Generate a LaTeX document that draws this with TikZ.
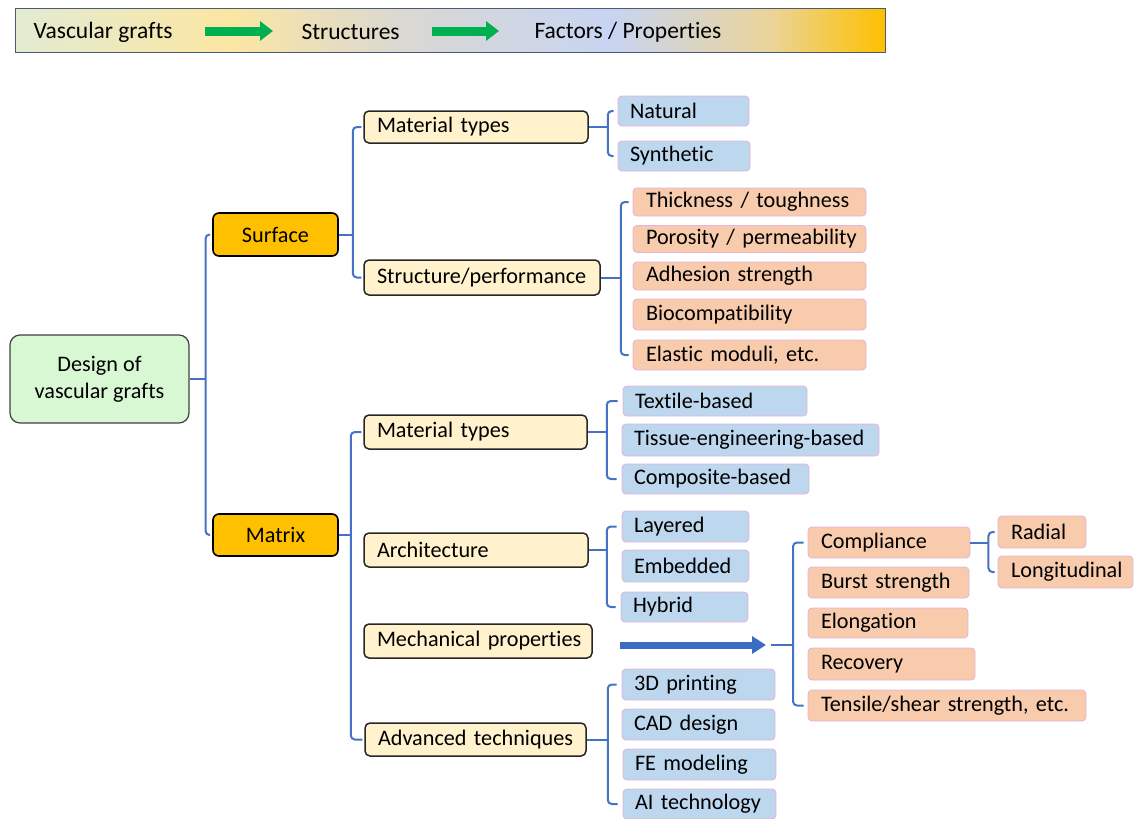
\documentclass[tikz,border=0pt]{standalone}
\usepackage{fontspec}
\setmainfont{Carlito}[Ligatures=NoCommon]
\usetikzlibrary{arrows.meta}
\definecolor{conncol}{HTML}{4472C4}
\definecolor{rootfill}{HTML}{D8F7D3}
\definecolor{lvtwo}{HTML}{FFC000}
\definecolor{lvthree}{HTML}{FFF2CC}
\definecolor{bluefill}{HTML}{BDD7EE}
\definecolor{orfill}{HTML}{F8CBAD}
\definecolor{pinkline}{HTML}{E4B4D8}
\definecolor{arrowblue}{HTML}{3A6CC4}
\definecolor{arrowgreen}{HTML}{00B050}
\definecolor{hA}{HTML}{E2EBD3}
\definecolor{hB}{HTML}{FBE6A2}
\definecolor{hC}{HTML}{DAD8D2}
\definecolor{hD}{HTML}{C7D4F2}
\definecolor{hE}{HTML}{EAD49A}
\definecolor{hF}{HTML}{FEC000}
\definecolor{hborder}{HTML}{4A5A78}
\begin{document}
\begin{tikzpicture}[x=1pt,y=-1pt,
  every node/.style={font=\fontsize{22.2}{27}\selectfont, text=black, inner ysep=0pt},
  rootbox/.style={draw=black!75, line width=1.2pt, fill=rootfill, rounded corners=10pt, align=center},
  levtwo/.style={draw=black, line width=1.6pt, fill=lvtwo, rounded corners=6pt, align=center},
  levthree/.style={draw=black!85, line width=1.5pt, fill=lvthree, rounded corners=5pt, align=left, inner xsep=13pt},
  bleaf/.style={draw=pinkline, line width=0.9pt, fill=bluefill, rounded corners=4pt, align=left, inner xsep=12pt},
  oleaf/.style={draw=pinkline, line width=0.9pt, fill=orfill, rounded corners=4pt, align=left, inner xsep=13pt},
  conn/.style={draw=conncol, line width=2pt, rounded corners=4pt},
  bigarrow/.style={draw=arrowblue, line width=7pt, -{Triangle[length=14pt,width=17pt]}},
  grarrow/.style={draw=arrowgreen, line width=9pt, -{Triangle[length=13pt,width=19pt]}},
  hdtext/.style={font=\fontsize{23.5}{27}\selectfont, anchor=west}
]
\useasboundingbox (0,0) rectangle (1135,819);

% header
\shade[left color=hA, right color=hB] (15,8) rectangle (230,52);
\shade[left color=hB, right color=hC] (229.5,8) rectangle (400,52);
\shade[left color=hC, right color=hD] (399.5,8) rectangle (610,52);
\shade[left color=hD, right color=hE] (609.5,8) rectangle (770,52);
\shade[left color=hE, right color=hF] (769.5,8) rectangle (885,52);
\draw[hborder, line width=1pt] (15,8) rectangle (885,52);
\node[hdtext] (hv) at (30,32) {Vascular grafts};
\node[hdtext] (hs) at (298,32) {Structures};
\node[hdtext] (hf) at (531,32) {Factors / Properties};
\coordinate (g1a) at (205,31); \coordinate (g1b) at (273,31);
\coordinate (g2a) at (432,31); \coordinate (g2b) at (499,31);
\draw[grarrow] (g1a) -- (g1b);
\draw[grarrow] (g2a) -- (g2b);

% root and level 2
\node[rootbox, minimum width=179pt, minimum height=88pt] (root) at (99.5,379) {Design of\\vascular grafts};
\node[levtwo, minimum width=125pt, minimum height=43pt] (surf) at (275.5,234.5) {Surface};
\node[levtwo, minimum width=125pt, minimum height=42pt] (matr) at (275.5,535) {Matrix};

% level 3
\node[levthree, text width=198pt, minimum height=32pt] (smt) at (476,127) {\mbox{Material types}};
\node[levthree, text width=210pt, minimum height=35pt] (ssp) at (482,277.5) {\mbox{Structure/performance}};
\node[levthree, text width=197pt, minimum height=34pt] (mmt) at (475.5,432) {\mbox{Material types}};
\node[levthree, text width=198pt, minimum height=34pt] (arc) at (476,550) {\mbox{Architecture}};
\node[levthree, text width=202pt, minimum height=34pt] (mec) at (478,641) {\mbox{Mechanical properties}};
\node[levthree, text width=195pt, minimum height=33pt] (adv) at (475.5,739.5) {\mbox{Advanced techniques}};

% leaves: surface
\node[bleaf, text width=107pt, minimum height=30pt] (nat) at (683.5,111) {\mbox{Natural}};
\node[bleaf, text width=108pt, minimum height=30pt] (syn) at (684,156) {\mbox{Synthetic}};
\node[oleaf, text width=207pt, minimum height=28pt] (thk) at (749.5,202) {\mbox{Thickness / toughness}};
\node[oleaf, text width=207pt, minimum height=27pt] (por) at (749.5,239) {\mbox{Porosity / permeability}};
\node[oleaf, text width=207pt, minimum height=28pt] (adh) at (749.5,276) {\mbox{Adhesion strength}};
\node[oleaf, text width=207pt, minimum height=31pt] (bio) at (749.5,314.5) {\mbox{Biocompatibility}};
\node[oleaf, text width=207pt, minimum height=30pt] (ela) at (749.5,355) {\mbox{Elastic moduli, etc.}};

% leaves: matrix
\node[bleaf, text width=160pt, minimum height=30pt] (tex) at (715,401) {\mbox{Textile-based}};
\node[bleaf, text width=233pt, minimum height=32pt] (tis) at (750.5,440) {\mbox{Tissue-engineering-based}};
\node[bleaf, text width=163pt, minimum height=30pt] (com) at (715.5,479) {\mbox{Composite-based}};
\node[bleaf, text width=103pt, minimum height=31pt] (lay) at (685.5,526.5) {\mbox{Layered}};
\node[bleaf, text width=103pt, minimum height=32pt] (emb) at (685.5,566) {\mbox{Embedded}};
\node[bleaf, text width=103pt, minimum height=30pt] (hyb) at (684.5,607) {\mbox{Hybrid}};
\node[bleaf, text width=129pt, minimum height=31pt] (dtp) at (698.5,684.5) {\mbox{3D printing}};
\node[bleaf, text width=129pt, minimum height=31pt] (cad) at (698.5,724.5) {\mbox{CAD design}};
\node[bleaf, text width=129pt, minimum height=31pt] (fem) at (699.5,764.5) {\mbox{FE modeling}};
\node[bleaf, text width=129pt, minimum height=30pt] (ait) at (699.5,804) {\mbox{AI technology}};

% mechanical properties leaves
\node[oleaf, text width=136pt, minimum height=31pt] (cpl) at (889,542.5) {\mbox{Compliance}};
\node[oleaf, text width=135pt, minimum height=31pt] (bur) at (888.5,582.5) {\mbox{Burst strength}};
\node[oleaf, text width=134pt, minimum height=30pt] (elo) at (888,623) {\mbox{Elongation}};
\node[oleaf, text width=141pt, minimum height=32pt] (rec) at (891.5,664) {\mbox{Recovery}};
\node[oleaf, text width=252pt, minimum height=31pt] (ten) at (947,705.5) {\mbox{Tensile/shear strength, etc.}};
\node[oleaf, text width=62pt, minimum height=32pt] (rad) at (1042,532) {\mbox{Radial}};
\node[oleaf, text width=109pt, minimum height=32pt] (lon) at (1065.5,572) {\mbox{Longitudinal}};

% junctions
\coordinate (j0) at ([xshift=16pt]root.east);
\coordinate (j1) at ([xshift=14pt]surf.east);
\coordinate (j2) at ([xshift=19pt]smt.east);
\coordinate (j3) at ([xshift=20pt]ssp.east);
\coordinate (j4) at ([xshift=12pt]matr.east);
\coordinate (j5) at ([xshift=19pt]mmt.east);
\coordinate (j6) at ([xshift=18pt]arc.east);
\coordinate (j9) at ([xshift=21pt]adv.east);
\coordinate (j8) at ([xshift=18pt]cpl.east);
\coordinate (a0) at (620,645);
\coordinate (a1) at (766,645);
\coordinate (m0) at (771,645);
\coordinate (j7) at (793,645);

% connectors
\draw[conn] (root.east) -- (j0);
\draw[conn] ([xshift=-2pt]surf.west) -| (j0) |- ([xshift=-2pt]matr.west);
\draw[conn] (surf.east) -- (j1);
\draw[conn] ([xshift=-2pt]smt.west) -| (j1) |- ([xshift=-2pt]ssp.west);
\draw[conn] (smt.east) -- (j2);
\draw[conn] ([xshift=-4pt]nat.west) -| (j2) |- ([xshift=-4pt]syn.west);
\draw[conn] (ssp.east) -- (j3);
\draw[conn] ([xshift=-4pt]thk.west) -| (j3) |- ([xshift=-4pt]ela.west);
\draw[conn] (matr.east) -- (j4);
\draw[conn] ([xshift=-2pt]mmt.west) -| (j4) |- ([xshift=-2pt]adv.west);
\draw[conn] (mmt.east) -- (j5);
\draw[conn] ([xshift=-5pt]tex.west) -| (j5) |- ([xshift=-5pt]com.west);
\draw[conn] (arc.east) -- (j6);
\draw[conn] ([xshift=-5pt]lay.west) -| (j6) |- ([xshift=-5pt]hyb.west);
\draw[conn] (adv.east) -- (j9);
\draw[conn] ([xshift=-5pt]dtp.west) -| (j9) |- ([xshift=-5pt]ait.west);
\draw[bigarrow] (a0) -- (a1);
\draw[conn] (m0) -- (j7);
\draw[conn] ([xshift=-4pt]cpl.west) -| (j7) |- ([xshift=-4pt]ten.west);
\draw[conn] (cpl.east) -- (j8);
\draw[conn] ([xshift=-3pt]rad.west) -| (j8) |- ([xshift=-3pt]lon.west);
\end{tikzpicture}
\end{document}
